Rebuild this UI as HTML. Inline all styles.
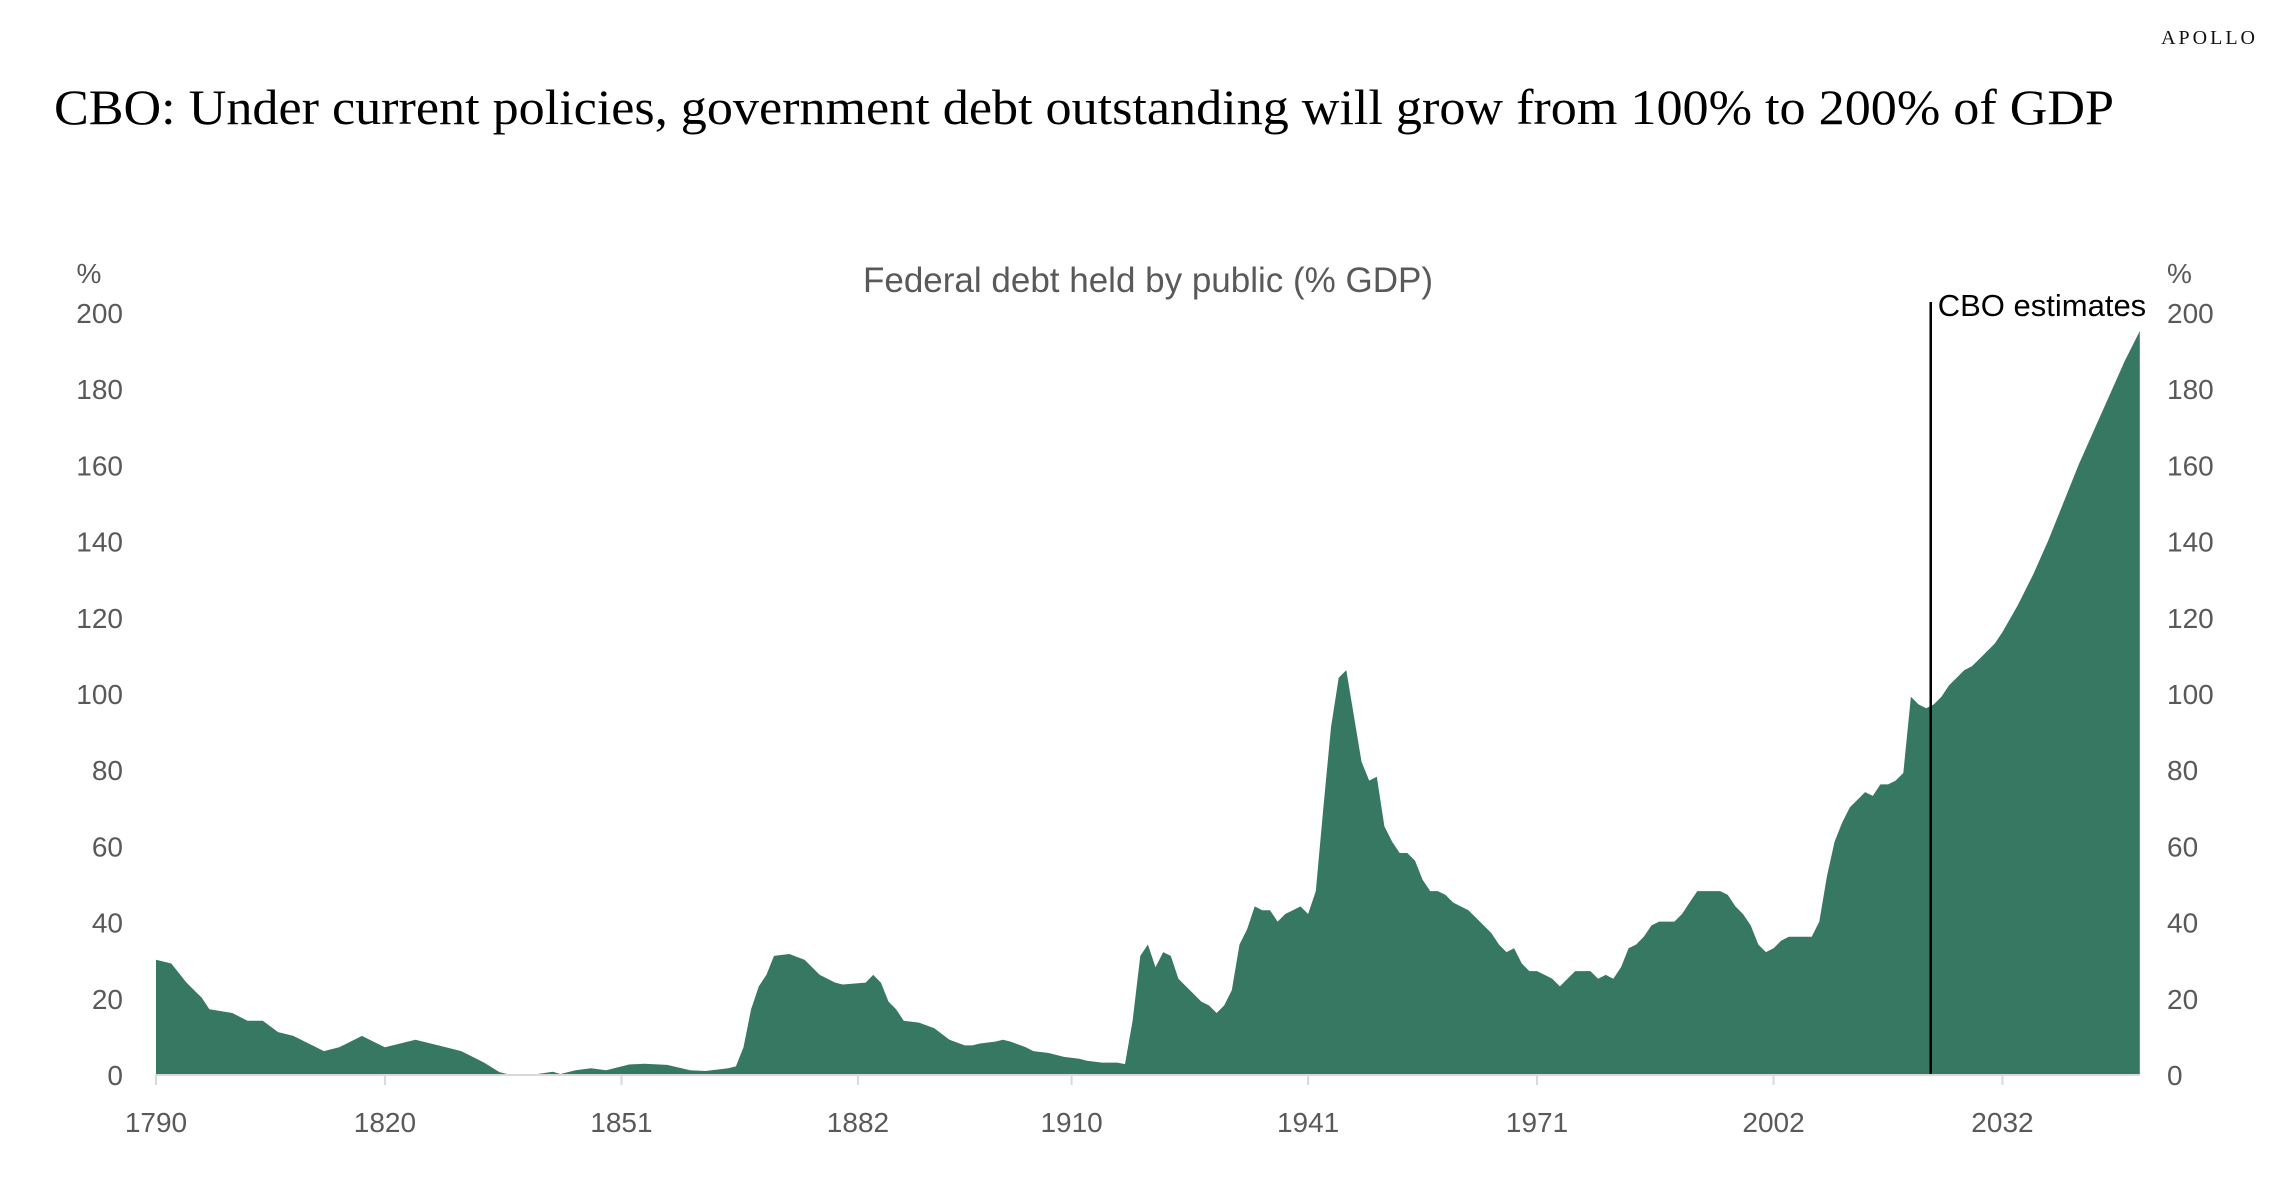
<!DOCTYPE html>
<html><head><meta charset="utf-8"><style>
html,body{margin:0;padding:0;background:#fff;}
svg{display:block;}
</style></head><body>
<svg id="chart" width="2282" height="1184" xmlns="http://www.w3.org/2000/svg">
<text x="2258" y="44" text-anchor="end" font-family="Liberation Serif, serif" font-size="20" letter-spacing="3" fill="#111">APOLLO</text>
<text x="54" y="124" font-family="Liberation Serif, serif" font-size="50" fill="#000" textLength="2060" lengthAdjust="spacingAndGlyphs">CBO: Under current policies, government debt outstanding will grow from 100% to 200% of GDP</text>
<text x="1148" y="292" text-anchor="middle" font-family="Liberation Sans, sans-serif" font-size="35" fill="#595959">Federal debt held by public (% GDP)</text>
<text x="89" y="283" text-anchor="middle" font-family="Liberation Sans, sans-serif" font-size="28" fill="#595959">%</text>
<text x="2167" y="283" font-family="Liberation Sans, sans-serif" font-size="28" fill="#595959">%</text>
<g id="plot"></g>
</svg>
<script>
const years=[1790,1792,1794,1796,1797,1800,1801,1802,1804,1806,1808,1810,1812,1814,1815,1817,1818,1820,1822,1824,1826,1828,1830,1832,1833,1835,1836,1840,1842,1843,1845,1847,1849,1852,1854,1857,1860,1862,1865,1866,1867,1868,1869,1870,1871,1873,1875,1877,1879,1880,1883,1884,1885,1886,1887,1888,1890,1892,1894,1896,1897,1898,1900,1901,1902,1904,1905,1907,1909,1911,1912,1914,1916,1917,1918,1919,1920,1921,1922,1923,1924,1925,1926,1927,1928,1929,1930,1931,1932,1933,1934,1935,1936,1937,1938,1939,1940,1941,1942,1943,1944,1945,1946,1947,1948,1949,1950,1951,1952,1953,1954,1955,1956,1957,1958,1959,1960,1961,1962,1963,1964,1965,1966,1967,1968,1969,1970,1971,1972,1973,1974,1975,1976,1977,1978,1979,1980,1981,1982,1983,1984,1985,1986,1987,1988,1989,1990,1991,1992,1993,1994,1995,1996,1997,1998,1999,2000,2001,2002,2003,2004,2005,2006,2007,2008,2009,2010,2011,2012,2013,2014,2015,2016,2017,2018,2019,2020,2021,2022,2023,2024,2025,2026,2027,2028,2029,2030,2031,2032,2034,2036,2038,2040,2042,2044,2046,2048,2050];
const debtPct=[30,29,24,20,17,16,15,14,14,11,10,8,6,7,8,10,9,7,8,9,8,7,6,4,3,0.5,0,0,0.6,0,1,1.5,1,2.5,2.7,2.4,1,0.8,1.5,2,7,17,23,26,31,31.5,30,26,24,23.5,24,26,24,19,17,14,13.5,12,9,7.5,7.5,8,8.5,9,8.5,7,6,5.5,4.5,4,3.5,3,3,2.6,14,31,34,28,32,31,25,23,21,19,18,16,18,22,34,38,44,43,43,40,42,43,44,42,48,70,91,104,106,94,82,77,78,65,61,58,58,56,51,48,48,47,45,44,43,41,39,37,34,32,33,29,27,27,26,25,23,25,27,27,27,25,26,25,28,33,34,36,39,40,40,40,42,45,48,48,48,48,47,44,42,39,34,32,33,35,36,36,36,36,40,52,61,66,70,72,74,73,76,76,77,79,99,97,96,97,99,102,104,106,107,109,111,113,116,123,131,140,150,160,169,178,187,195];
const yTicks=[0,20,40,60,80,100,120,140,160,180,200];
const xTickLabels=[1790,1820,1851,1882,1910,1941,1971,2002,2032];
const cboStartYear=2022.6;

const NS="http://www.w3.org/2000/svg";
const g=document.getElementById('plot');
const X0=156,PX=7.63,Y0=1074,PY=3.81;
const xs=y=>X0+(y-1790)*PX;
const ys=v=>Y0-v*PY;
function mk(t,a){const e=document.createElementNS(NS,t);for(const k in a)e.setAttribute(k,a[k]);g.appendChild(e);return e;}

let d='M'+xs(years[0])+','+ys(0);
years.forEach((yr,i)=>{d+=' L'+xs(yr).toFixed(1)+','+ys(debtPct[i]).toFixed(1);});
d+=' L'+xs(years[years.length-1])+','+ys(0)+' Z';
const area=mk('path',{d:d,fill:'#367861'});



const ax=mk('line',{x1:xs(1790),x2:xs(years[years.length-1]),y1:Y0+1,y2:Y0+1,stroke:'#d9d9d9','stroke-width':2});



xTickLabels.forEach(yr=>{
  const t=mk('line',{x1:xs(yr),x2:xs(yr),y1:Y0,y2:Y0+11,stroke:'#d9d9d9','stroke-width':2});
  
  
  const l=mk('text',{x:xs(yr),y:Y0+58,'text-anchor':'middle','font-family':'Liberation Sans, sans-serif','font-size':28,fill:'#595959'});
  l.textContent=yr;
  
  
});
yTicks.forEach(v=>{
  const l=mk('text',{x:123,y:ys(v)+11,'text-anchor':'end','font-family':'Liberation Sans, sans-serif','font-size':28,fill:'#595959'});
  l.textContent=v;
  
  
  const r=mk('text',{x:2167,y:ys(v)+11,'font-family':'Liberation Sans, sans-serif','font-size':28,fill:'#595959'});
  r.textContent=v;
  
  
});
const cl=mk('line',{x1:xs(cboStartYear),x2:xs(cboStartYear),y1:Y0,y2:302,stroke:'#000','stroke-width':2.5});


const ct=mk('text',{x:xs(cboStartYear)+7,y:316,'font-family':'Liberation Sans, sans-serif','font-size':31,fill:'#000'});
ct.textContent='CBO estimates';


</script>
</body></html>
